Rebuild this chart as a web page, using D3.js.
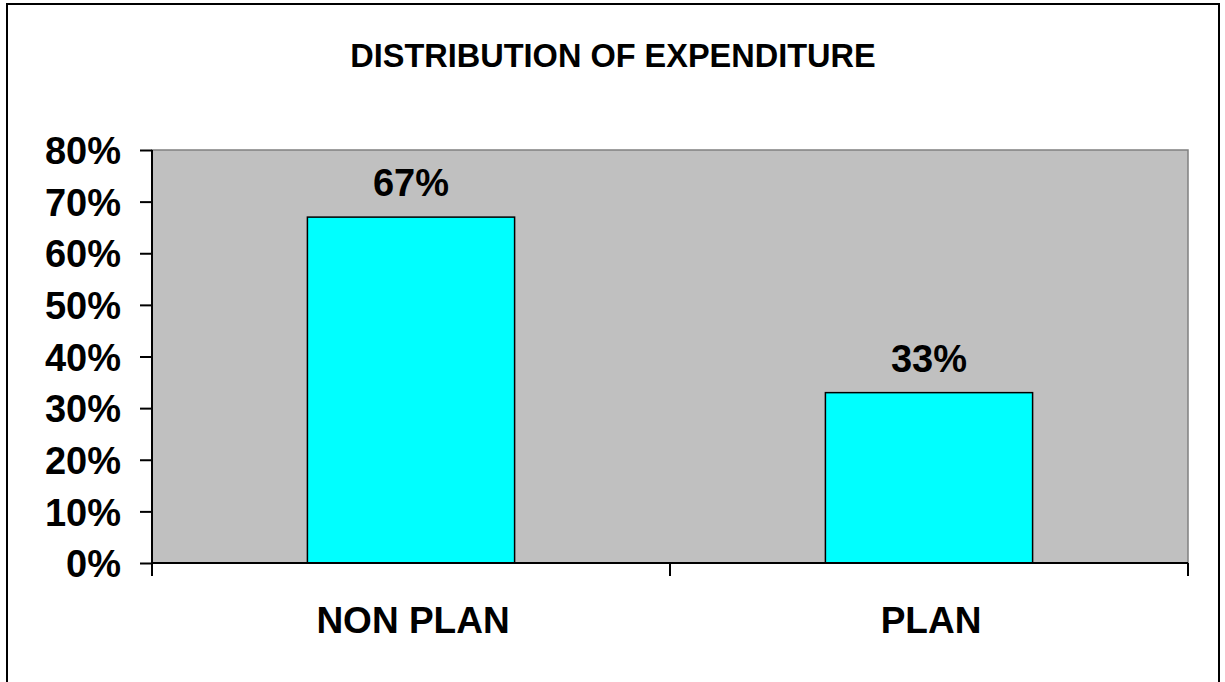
<!DOCTYPE html>
<html><head><meta charset="utf-8">
<script src="https://cdn.jsdelivr.net/npm/d3@7"></script>
<style>body{margin:0;background:#fff}svg{display:block}text{font-family:"Liberation Sans",Arial,sans-serif;font-weight:bold;fill:#000}</style>
</head><body>
<script>
const categories = ["NON PLAN", "PLAN"];
const values = [67, 33];
const yTicks = [0, 10, 20, 30, 40, 50, 60, 70, 80];
const title = "DISTRIBUTION OF EXPENDITURE";

const W = 1225, H = 682;
const svg = d3.select("body").append("svg").attr("width", W).attr("height", H);

// outer chart border
svg.append("rect").attr("x", 7).attr("y", 4).attr("width", 1212).attr("height", 700)
  .attr("fill", "#fff").attr("stroke", "#000").attr("stroke-width", 2);

const L = 152, R = 1188, T = 150, B = 563;
const x = d3.scaleBand().domain(categories).range([L, R]).paddingInner(0.6).paddingOuter(0.3);
const y = d3.scaleLinear().domain([0, 80]).range([B, T]);

// plot area
svg.append("rect").attr("x", L).attr("y", T).attr("width", R - L).attr("height", B - T)
  .attr("fill", "#C0C0C0").attr("stroke", "#808080").attr("stroke-width", 1.5);

// title
svg.append("text").attr("x", 613).attr("y", 67).attr("text-anchor", "middle")
  .style("font-size", "32.5px").text(title);

// bars
svg.selectAll("rect.bar").data(values).join("rect").attr("class", "bar")
  .attr("x", (d, i) => x(categories[i]))
  .attr("y", d => y(d))
  .attr("width", x.bandwidth())
  .attr("height", d => y(0) - y(d))
  .attr("fill", "#00FFFF").attr("stroke", "#000").attr("stroke-width", 1.5);

// data labels
svg.selectAll("text.dl").data(values).join("text").attr("class", "dl")
  .attr("x", (d, i) => x(categories[i]) + x.bandwidth() / 2)
  .attr("y", d => y(d) - 21)
  .attr("text-anchor", "middle").style("font-size", "38px")
  .text(d => d + "%");

// y axis
const yAxis = d3.axisLeft(y).tickValues(yTicks).tickFormat(d => d + "%").tickSize(12).tickPadding(19);
const gy = svg.append("g").attr("transform", `translate(${L},0)`).call(yAxis);
gy.select(".domain").attr("stroke", "#000").attr("stroke-width", 2).attr("d", `M0,${T}V${B}`);
gy.selectAll(".tick line").attr("stroke", "#000").attr("stroke-width", 2);
gy.selectAll(".tick text").attr("font-family", null).attr("font-size", null)
  .style("font-size", "38px").attr("dy", "0.36em");

// x axis
const xEdge = d3.scaleLinear().domain([0, categories.length]).range([L, R]);
const gx = svg.append("g").attr("transform", `translate(0,${B})`);
gx.append("line").attr("x1", L).attr("x2", R).attr("stroke", "#000").attr("stroke-width", 2);
gx.selectAll("line.tk").data(d3.range(categories.length + 1)).join("line").attr("class", "tk")
  .attr("x1", d => xEdge(d)).attr("x2", d => xEdge(d)).attr("y1", 0).attr("y2", 13)
  .attr("stroke", "#000").attr("stroke-width", 2);
gx.selectAll("text.cat").data(categories).join("text").attr("class", "cat")
  .attr("x", d => x(d) + x.bandwidth() / 2 + 2).attr("y", 70)
  .attr("text-anchor", "middle").style("font-size", "37px").text(d => d);
</script>
</body></html>
